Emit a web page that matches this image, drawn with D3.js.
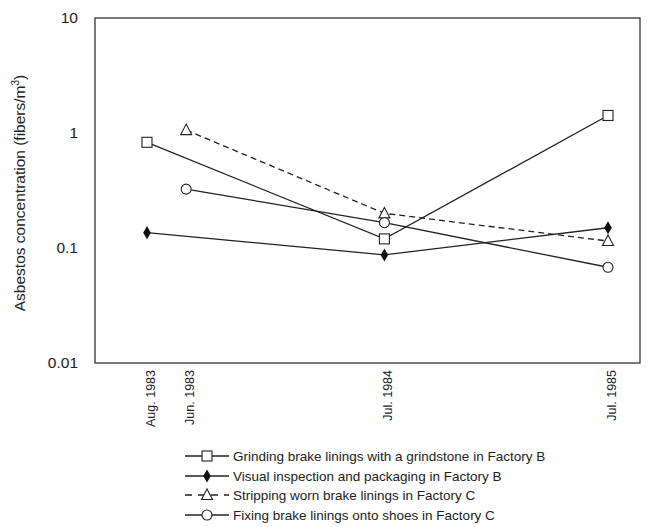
<!DOCTYPE html>
<html>
<head>
<meta charset="utf-8">
<script src="https://cdn.jsdelivr.net/npm/d3@7"></script>
<style>
  body { margin: 0; background: #fff; }
  text { font-family: "Liberation Sans", Arial, sans-serif; fill: #222; }
</style>
</head>
<body>
<div id="chart"></div>
<script>
// sampling dates (positions along the x axis, in chart units)
const dates = ["Aug. 1983", "Jun. 1983", "Jul. 1984", "Jul. 1985"];
const datePos = [0, 0.17, 1.03, 2];

const yTicks = [10, 1, 0.1, 0.01];
const yTickLabels = ["10", "1", "0.1", "0.01"];

// series: which date index + concentration (fibers/m3)
const grindingDates = [0, 2, 3];
const grinding = [0.83, 0.12, 1.42];
const inspectionDates = [0, 2, 3];
const inspection = [0.136, 0.087, 0.15];
const strippingDates = [1, 2, 3];
const stripping = [1.06, 0.2, 0.115];
const fixingDates = [1, 2, 3];
const fixing = [0.325, 0.166, 0.068];

const legendLabels = [
  "Grinding brake linings with a grindstone in Factory B",
  "Visual inspection and packaging in Factory B",
  "Stripping worn brake linings in Factory C",
  "Fixing brake linings onto shoes in Factory C"
];

const series = [
  { name: legendLabels[0], idx: grindingDates, vals: grinding, marker: "square", dash: null },
  { name: legendLabels[1], idx: inspectionDates, vals: inspection, marker: "diamond", dash: null },
  { name: legendLabels[2], idx: strippingDates, vals: stripping, marker: "triangle", dash: "6,4" },
  { name: legendLabels[3], idx: fixingDates, vals: fixing, marker: "circle", dash: null }
];

const W = 650, H = 527;
const plot = { left: 95, right: 640, top: 18, bottom: 363 };

const svg = d3.select("#chart").append("svg")
  .attr("width", W)
  .attr("height", H);

const x = d3.scaleLinear().domain([0, 2]).range([147, 608]);
const y = d3.scaleLog().domain([0.01, 10]).range([plot.bottom, plot.top]);

// frame
svg.append("rect")
  .attr("x", plot.left)
  .attr("y", plot.top)
  .attr("width", plot.right - plot.left)
  .attr("height", plot.bottom - plot.top)
  .style("fill", "none")
  .style("stroke", "#333")
  .style("stroke-width", 1.3);

// y tick labels
svg.selectAll(".ytick")
  .data(yTicks)
  .enter()
  .append("text")
  .attr("x", 78)
  .attr("y", (d) => y(d))
  .attr("dy", "0.35em")
  .attr("text-anchor", "end")
  .style("font-size", "15.5px")
  .text((d, i) => yTickLabels[i]);

// y title
svg.append("text")
  .attr("transform", "translate(25,193) rotate(-90)")
  .attr("text-anchor", "middle")
  .style("font-size", "15.5px")
  .html("Asbestos concentration (fibers/m<tspan dy='-6' font-size='10px'>3</tspan><tspan dy='6'>)</tspan>");

// x tick labels (rotated)
svg.selectAll(".xtick")
  .data(dates)
  .enter()
  .append("text")
  .attr("transform", (d, i) => "translate(" + (x(datePos[i]) + 8) + "," + (plot.bottom + 7) + ") rotate(-90)")
  .attr("text-anchor", "end")
  .style("font-size", "12.5px")
  .text((d) => d);

// marker drawing
function drawMarker(g, type, cx, cy) {
  if (type === "square") {
    g.append("rect")
      .attr("x", cx - 5).attr("y", cy - 5)
      .attr("width", 10).attr("height", 10)
      .style("fill", "#fff").style("stroke", "#222").style("stroke-width", 1.1);
  } else if (type === "diamond") {
    g.append("path")
      .attr("d", d3.symbol().type(d3.symbolDiamond).size(50)())
      .attr("transform", "translate(" + cx + "," + cy + ")")
      .style("fill", "#111");
  } else if (type === "triangle") {
    g.append("path")
      .attr("d", "M0,-6L5.5,4.5L-5.5,4.5Z")
      .attr("transform", "translate(" + cx + "," + cy + ")")
      .style("fill", "#fff").style("stroke", "#222").style("stroke-width", 1.1);
  } else {
    g.append("circle")
      .attr("cx", cx).attr("cy", cy).attr("r", 5)
      .style("fill", "#fff").style("stroke", "#222").style("stroke-width", 1.1);
  }
}

const line = d3.line()
  .x((d) => x(datePos[d.i]))
  .y((d) => y(d.v));

series.forEach(function (s) {
  const pts = s.idx.map((i, k) => ({ i: i, v: s.vals[k] }));
  svg.append("path")
    .datum(pts)
    .attr("d", line)
    .style("fill", "none")
    .style("stroke", "#222")
    .style("stroke-width", 1.3)
    .style("stroke-dasharray", s.dash);
});

series.forEach(function (s) {
  const g = svg.append("g");
  s.idx.forEach(function (i, k) {
    drawMarker(g, s.marker, x(datePos[i]), y(s.vals[k]));
  });
});

// legend
const legY = [456, 476, 495, 515];
series.forEach(function (s, i) {
  const g = svg.append("g");
  g.append("line")
    .attr("x1", 185).attr("x2", 229)
    .attr("y1", legY[i]).attr("y2", legY[i])
    .style("stroke", "#222")
    .style("stroke-width", 1.3)
    .style("stroke-dasharray", s.dash ? "7,6" : null);
  drawMarker(g, s.marker, 207, legY[i]);
  g.append("text")
    .attr("x", 233)
    .attr("y", legY[i])
    .attr("dy", "0.35em")
    .style("font-size", "13.5px")
    .text(s.name);
});
</script>
</body>
</html>
